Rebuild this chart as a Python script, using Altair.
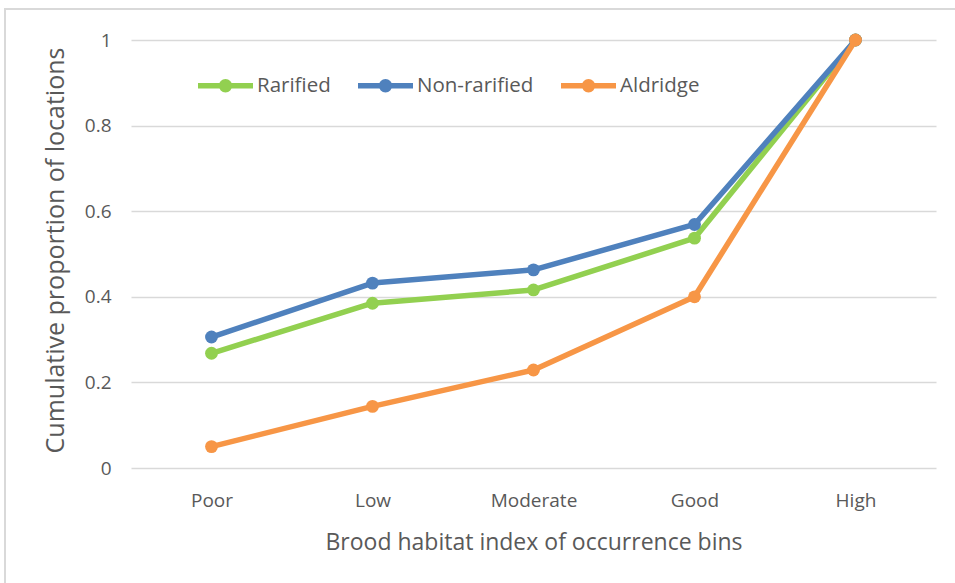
import altair as alt
import pandas as pd

# Cumulative proportion of locations per brood habitat index bin
bins = ["Poor", "Low", "Moderate", "Good", "High"]
series_names = ["Rarified", "Non-rarified", "Aldridge"]
rarified = [0.268, 0.385, 0.416, 0.537, 1.0]
non_rarified = [0.306, 0.432, 0.463, 0.569, 1.0]
aldridge = [0.050, 0.144, 0.229, 0.400, 1.0]
colors = ["#92D050", "#4F81BD", "#F79646"]
y_ticks = [0, 0.2, 0.4, 0.6, 0.8, 1]

rows = []
for name, vals in zip(series_names, [rarified, non_rarified, aldridge]):
    for b, v in zip(bins, vals):
        rows.append({"bin": b, "series": name, "value": v})
df = pd.DataFrame(rows)

FONT = "Open Sans"
TEXT = "#595959"
GRID = "#D9D9D9"

# legend symbol: a thick line with a filled dot in the middle
legend_symbol = (
    "M-1,0H1 "
    "M0.145,0A0.145,0.145 0 1,1 -0.145,0A0.145,0.145 0 1,1 0.145,0Z "
    "M0.05,0A0.05,0.05 0 1,1 -0.05,0A0.05,0.05 0 1,1 0.05,0Z"
)

x_enc = alt.X(
    "bin:N",
    sort=bins,
    scale=alt.Scale(type="point", padding=0.5),
    axis=alt.Axis(
        title="Brood habitat index of occurrence bins",
        labelAngle=0,
        labelPadding=23,
        titlePadding=21,
        grid=False,
        domain=False,
        ticks=False,
        labelFontSize=19,
        titleFontSize=23,
    ),
)
y_enc = alt.Y(
    "value:Q",
    scale=alt.Scale(domain=[0, 1], nice=False, zero=True),
    axis=alt.Axis(
        title="Cumulative proportion of locations",
        titleY=210,
        values=y_ticks,
        format="~g",
        domain=False,
        ticks=False,
        labelPadding=20,
        titlePadding=16,
        gridColor=GRID,
        gridWidth=1.5,
        labelFontSize=19,
        titleFontSize=25,
    ),
)
color_enc = alt.Color(
    "series:N",
    scale=alt.Scale(domain=series_names, range=colors),
    legend=alt.Legend(
        title=None,
        orient="none",
        direction="horizontal",
        legendX=64,
        legendY=15,
        padding=0,
        symbolType=legend_symbol,
        symbolSize=3025,
        symbolStrokeWidth=5.5,
        symbolOpacity=1,
        labelOffset=1,
        columnPadding=16,
        labelFont=FONT,
        labelFontSize=20.5,
        labelColor=TEXT,
    ),
)

# outer frame line around the chart
frame = alt.Chart(pd.DataFrame({"k": [0]})).mark_rect(
    fill="transparent", stroke=GRID, strokeWidth=2
).encode(
    x=alt.value(-126), x2=alt.value(830), y=alt.value(-31), y2=alt.value(560)
)

layers = [frame]
for name in series_names:
    layers.append(
        alt.Chart(df)
        .transform_filter(alt.datum.series == name)
        .mark_line(
            strokeWidth=5.5,
            strokeJoin="round",
            point=alt.OverlayMarkDef(filled=True, size=165, opacity=1),
        )
        .encode(x=x_enc, y=y_enc, color=color_enc)
    )

chart = (
    alt.layer(*layers)
    .properties(
        width=805,
        height=428,
        autosize=alt.AutoSizeParams(type="none"),
        padding={"left": 131, "top": 40, "right": 19, "bottom": 115},
        background="white",
    )
    .configure_view(stroke=None)
    .configure_axis(
        labelFont=FONT,
        titleFont=FONT,
        labelColor=TEXT,
        titleColor=TEXT,
        titleFontWeight="normal",
    )
)

chart.save("out.html", embed_options={"renderer": "svg", "actions": False})
